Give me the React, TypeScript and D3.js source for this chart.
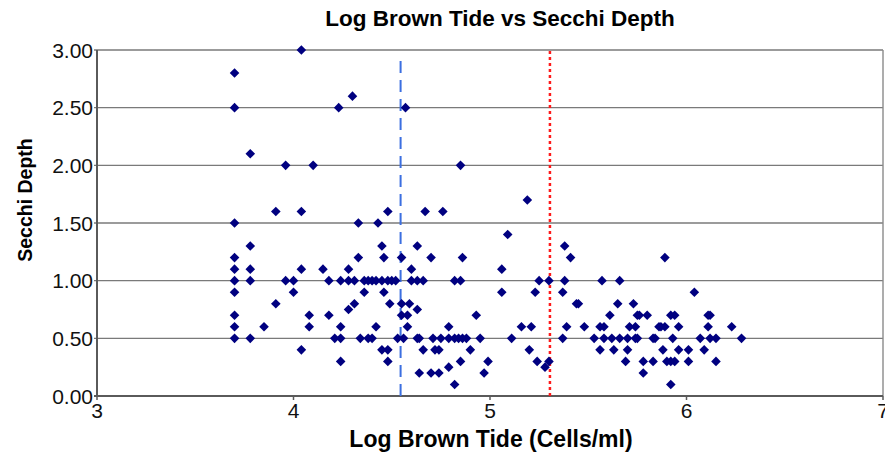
import React, { useEffect, useRef } from 'react';
import * as d3 from 'd3';

// Log brown tide (cells/ml) for each sample
const logBrownTide = [
  3.7, 3.7, 3.7, 3.7, 3.7, 3.7, 3.7, 3.7, 3.7, 3.7,
  3.78, 3.78, 3.78, 3.78, 3.78, 3.85, 3.91, 3.91, 3.96, 3.96,
  4.0, 4.0, 4.04, 4.04, 4.04, 4.04, 4.08, 4.08, 4.1, 4.15,
  4.18, 4.18, 4.21, 4.23, 4.24, 4.24, 4.24, 4.24, 4.28, 4.28,
  4.28, 4.3, 4.31, 4.31, 4.33, 4.33, 4.34, 4.36, 4.36, 4.38,
  4.38, 4.4, 4.4, 4.42, 4.42, 4.43, 4.45, 4.45, 4.45, 4.46,
  4.46, 4.48, 4.48, 4.48, 4.48, 4.49, 4.5, 4.52, 4.53, 4.55,
  4.55, 4.55, 4.56, 4.57, 4.58, 4.58, 4.59, 4.6, 4.6, 4.63,
  4.63, 4.63, 4.63, 4.64, 4.64, 4.66, 4.66, 4.67, 4.7, 4.7,
  4.71, 4.72, 4.74, 4.74, 4.75, 4.76, 4.79, 4.79, 4.79, 4.82,
  4.82, 4.82, 4.84, 4.85, 4.85, 4.85, 4.86, 4.86, 4.88, 4.9,
  4.93, 4.95, 4.97, 4.99, 5.06, 5.06, 5.09, 5.11, 5.16, 5.19,
  5.2, 5.21, 5.23, 5.24, 5.25, 5.28, 5.3, 5.3, 5.37, 5.37,
  5.38, 5.38, 5.39, 5.41, 5.44, 5.45, 5.48, 5.53, 5.56, 5.56,
  5.57, 5.58, 5.58, 5.61, 5.62, 5.63, 5.65, 5.66, 5.66, 5.69,
  5.7, 5.7, 5.71, 5.73, 5.74, 5.74, 5.75, 5.75, 5.76, 5.78,
  5.78, 5.8, 5.83, 5.83, 5.84, 5.86, 5.87, 5.88, 5.89, 5.89,
  5.9, 5.92, 5.92, 5.92, 5.93, 5.94, 5.94, 5.96, 5.96, 6.01,
  6.01, 6.04, 6.07, 6.09, 6.11, 6.11, 6.12, 6.12, 6.15, 6.15,
  6.23, 6.28,
];

// Secchi depth for the same samples
const secchiDepth = [
  2.8, 2.5, 1.5, 1.2, 1.1, 1.0, 0.9, 0.7, 0.6, 0.5,
  2.1, 1.3, 1.1, 1.0, 0.5, 0.6, 1.6, 0.8, 2.0, 1.0,
  1.0, 0.9, 3.0, 1.6, 1.1, 0.4, 0.7, 0.6, 2.0, 1.1,
  1.0, 0.7, 0.5, 2.5, 1.0, 0.6, 0.5, 0.3, 1.1, 1.0,
  0.75, 2.6, 1.0, 0.8, 1.5, 1.2, 0.5, 1.0, 0.9, 1.0,
  0.5, 1.0, 0.5, 1.0, 0.6, 1.5, 1.3, 1.0, 0.4, 1.2,
  0.9, 1.6, 1.0, 0.4, 0.3, 0.8, 1.0, 1.0, 0.5, 1.2,
  0.8, 0.7, 0.5, 2.5, 0.7, 0.6, 0.8, 1.1, 1.0, 1.3,
  1.0, 0.75, 0.5, 0.5, 0.2, 1.0, 0.4, 1.6, 1.2, 0.2,
  0.5, 0.4, 0.4, 0.2, 0.5, 1.6, 0.6, 0.5, 0.25, 1.0,
  0.5, 0.1, 0.5, 2.0, 1.0, 0.3, 1.2, 0.5, 0.5, 0.4,
  0.7, 0.5, 0.2, 0.3, 1.1, 0.9, 1.4, 0.5, 0.6, 1.7,
  0.4, 0.6, 0.9, 0.3, 1.0, 0.25, 1.0, 0.3, 0.9, 0.5,
  1.3, 1.0, 0.6, 1.2, 0.8, 0.8, 0.6, 0.5, 0.6, 0.4,
  1.0, 0.6, 0.5, 0.7, 0.5, 0.4, 0.8, 1.0, 0.5, 0.3,
  0.5, 0.4, 0.6, 0.8, 0.6, 0.5, 0.7, 0.5, 0.7, 0.3,
  0.2, 0.7, 0.5, 0.3, 0.5, 0.6, 0.6, 0.4, 1.2, 0.6,
  0.3, 0.7, 0.3, 0.1, 0.5, 0.7, 0.3, 0.6, 0.4, 0.4,
  0.3, 0.9, 0.5, 0.4, 0.7, 0.6, 0.7, 0.5, 0.5, 0.3,
  0.6, 0.5,
];

const xTicks = [3, 4, 5, 6, 7];
const yTicks = [0, 0.5, 1, 1.5, 2, 2.5, 3];

// reference lines
const blueLineX = 4.545;
const redLineX = 5.305;

const font = '"Liberation Sans", Arial, sans-serif';

const App = () => {
  const ref = useRef(null);

  useEffect(() => {
    const svg = d3.select(ref.current);
    svg.selectAll('*').remove();

    const margin = { top: 50, right: 2, bottom: 58, left: 97 },
      width = 885,
      height = 454;

    const x = d3.scaleLinear().domain([3, 7]).range([margin.left, width - margin.right]);
    const y = d3.scaleLinear().domain([0, 3]).range([height - margin.bottom, margin.top]);

    // gridlines
    svg
      .append('g')
      .selectAll('line')
      .data(yTicks.slice(1))
      .enter()
      .append('line')
      .attr('x1', x(3) - 3)
      .attr('x2', x(7))
      .attr('y1', d => y(d))
      .attr('y2', d => y(d))
      .attr('stroke', '#7a7a7a')
      .attr('stroke-width', 1.4);

    // right border
    svg
      .append('line')
      .attr('x1', x(7))
      .attr('x2', x(7))
      .attr('y1', y(3))
      .attr('y2', y(0))
      .attr('stroke', '#8a8a8a')
      .attr('stroke-width', 1.4);

    // axis lines
    svg
      .append('line')
      .attr('x1', x(3))
      .attr('x2', x(3))
      .attr('y1', y(3))
      .attr('y2', y(0))
      .attr('stroke', '#5a5a5a')
      .attr('stroke-width', 2);
    svg
      .append('line')
      .attr('x1', x(3) - 3)
      .attr('x2', x(7))
      .attr('y1', y(0))
      .attr('y2', y(0))
      .attr('stroke', '#5a5a5a')
      .attr('stroke-width', 2);

    // x ticks
    svg
      .append('g')
      .selectAll('line')
      .data(xTicks)
      .enter()
      .append('line')
      .attr('x1', d => x(d))
      .attr('x2', d => x(d))
      .attr('y1', y(0))
      .attr('y2', y(0) + 4)
      .attr('stroke', '#5a5a5a')
      .attr('stroke-width', 1.5);

    // tick labels
    svg
      .append('g')
      .selectAll('text')
      .data(xTicks)
      .enter()
      .append('text')
      .attr('x', d => x(d))
      .attr('y', y(0) + 22)
      .attr('text-anchor', 'middle')
      .style('font-family', font)
      .style('font-size', '21px')
      .attr('fill', '#111')
      .text(d => d);

    svg
      .append('g')
      .selectAll('text')
      .data(yTicks)
      .enter()
      .append('text')
      .attr('x', x(3) - 4)
      .attr('y', d => y(d) + 7.5)
      .attr('text-anchor', 'end')
      .style('font-family', font)
      .style('font-size', '21px')
      .attr('fill', '#111')
      .text(d => d3.format('.2f')(d));

    // reference lines
    svg
      .append('line')
      .attr('x1', x(blueLineX))
      .attr('x2', x(blueLineX))
      .attr('y1', y(0))
      .attr('y2', y(2.95))
      .attr('stroke', '#3b6fe0')
      .attr('stroke-width', 2)
      .attr('stroke-dasharray', '12,7');
    svg
      .append('line')
      .attr('x1', x(redLineX))
      .attr('x2', x(redLineX))
      .attr('y1', y(0))
      .attr('y2', y(3))
      .attr('stroke', '#ff1a1a')
      .attr('stroke-width', 2.5)
      .attr('stroke-dasharray', '3,3');

    // points
    const diamond = d3.symbol().type(d3.symbolSquare).size(46);
    svg
      .append('g')
      .selectAll('path')
      .data(logBrownTide.map((v, i) => [v, secchiDepth[i]]))
      .enter()
      .append('path')
      .attr('d', diamond)
      .attr('transform', d => `translate(${x(d[0])},${y(d[1])}) rotate(45)`)
      .attr('fill', '#000080');

    // titles
    svg
      .append('text')
      .attr('x', 500)
      .attr('y', 26)
      .attr('text-anchor', 'middle')
      .style('font-family', font)
      .style('font-size', '22.5px')
      .style('font-weight', 'bold')
      .text('Log Brown Tide vs Secchi Depth');

    svg
      .append('text')
      .attr('x', 491)
      .attr('y', 447)
      .attr('text-anchor', 'middle')
      .style('font-family', font)
      .style('font-size', '23px')
      .style('font-weight', 'bold')
      .text('Log Brown Tide (Cells/ml)');

    svg
      .append('text')
      .attr('transform', 'translate(32,200) rotate(-90)')
      .attr('text-anchor', 'middle')
      .style('font-family', font)
      .style('font-size', '19.5px')
      .style('font-weight', 'bold')
      .text('Secchi Depth');
  });

  return (
    <svg
      ref={ref}
      width={885}
      height={454}
      style={{ position: 'absolute', left: 0, top: 0, background: '#fff' }}
    />
  );
};

export default App;
